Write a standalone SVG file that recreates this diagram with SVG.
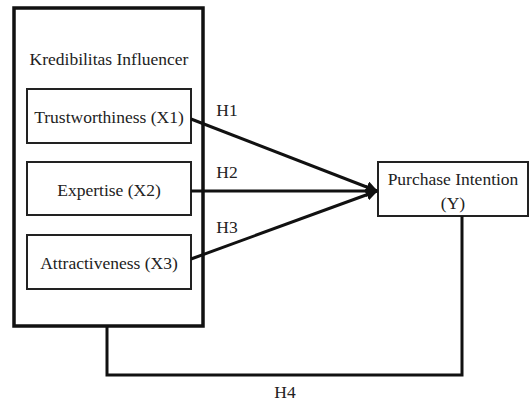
<svg xmlns="http://www.w3.org/2000/svg" width="531" height="403" viewBox="0 0 531 403">
<defs>
<style>
.t{font-family:"Liberation Serif","Times New Roman",serif;font-size:17.5px;fill:#222;text-anchor:middle;dominant-baseline:central}
.box{fill:#fff;stroke:#222;stroke-width:2}
.outer{fill:#fff;stroke:#111;stroke-width:3.5}
.c{fill:none;stroke:#111;stroke-width:3}
</style>
<marker id="ah" viewBox="0 0 10 10" refX="9" refY="5" markerWidth="4" markerHeight="4" orient="auto" markerUnits="strokeWidth">
<path d="M0,0 L10,5 L0,10 Z" fill="#111"/>
</marker>
</defs>
<g id="kredibilitas">
<rect class="outer" x="14" y="8" width="189" height="318"/>
<text class="t" x="109" y="59">Kredibilitas Influencer</text>
</g>
<g id="x1">
<rect class="box" x="27" y="89" width="164" height="54"/>
<text class="t" x="109" y="117">Trustworthiness (X1)</text>
</g>
<g id="x2">
<rect class="box" x="27" y="162" width="164" height="53"/>
<text class="t" x="109" y="190">Expertise (X2)</text>
</g>
<g id="x3">
<rect class="box" x="27" y="235" width="164" height="54"/>
<text class="t" x="109" y="263">Attractiveness (X3)</text>
</g>
<g id="y">
<rect class="box" x="378" y="162" width="150" height="54"/>
<text class="t" x="453" y="179">Purchase Intention</text>
<text class="t" x="453" y="203">(Y)</text>
</g>
<g id="connectors">
<line class="c" x1="191" y1="119" x2="377" y2="191" marker-end="url(#ah)"/>
<line class="c" x1="191" y1="191" x2="377" y2="191" marker-end="url(#ah)"/>
<line class="c" x1="191" y1="259" x2="377" y2="191" marker-end="url(#ah)"/>
<polyline class="c" points="107,326 107,375 462,375 462,216"/>
<text class="t" x="227" y="110">H1</text>
<text class="t" x="227" y="172">H2</text>
<text class="t" x="227" y="227">H3</text>
<text class="t" x="285" y="392">H4</text>
</g>
</svg>
